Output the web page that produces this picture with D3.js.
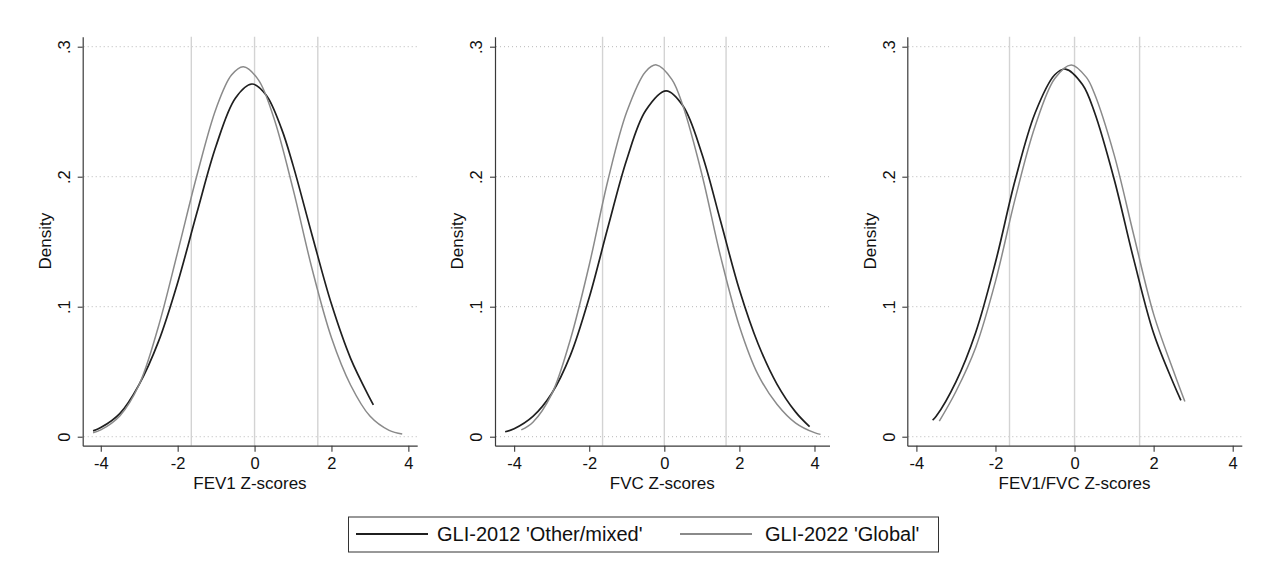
<!DOCTYPE html>
<html>
<head>
<meta charset="utf-8">
<script src="https://cdn.jsdelivr.net/npm/d3@7"></script>
<style>
  body { margin: 0; background: #fff; }
  svg, svg text { font-family: "Liberation Sans", Arial, Helvetica, sans-serif; }
</style>
</head>
<body>
<div id="chart"></div>
<script>
// chart values
var panelTitles = ['FEV1 Z-scores', 'FVC Z-scores', 'FEV1/FVC Z-scores'];
var seriesNames = ["GLI-2012 'Other/mixed'", "GLI-2022 'Global'"];
var xTicks = [-4, -2, 0, 2, 4];
var yTicks = [0, 0.1, 0.2, 0.3];
var yTickLabels = ['0', '.1', '.2', '.3'];
var refLines = [-1.645, 0, 1.645];
var xDomains = [[-4.47, 4.23], [-4.51, 4.40], [-4.23, 4.23]];

// FEV1
var fev1Z2012 = [-4.2, -4.0, -3.5, -3.0, -2.5, -2.0, -1.5, -1.0, -0.5, -0.07, 0.3, 0.7, 1.0, 1.5, 2.0, 2.5, 3.0, 3.09];
var fev1D2012 = [0.0045, 0.007, 0.018, 0.0403, 0.0731, 0.1185, 0.1722, 0.2238, 0.2604, 0.2713, 0.2629, 0.237, 0.2089, 0.1546, 0.102, 0.0601, 0.0295, 0.0245];
var fev1Z2022 = [-4.2, -4.0, -3.5, -3.0, -2.5, -2.0, -1.5, -1.0, -0.6, -0.29, 0.1, 0.5, 1.0, 1.5, 2.0, 2.5, 3.0, 3.5, 3.84];
var fev1D2022 = [0.003, 0.0052, 0.0162, 0.0402, 0.0848, 0.142, 0.2009, 0.2525, 0.2782, 0.2846, 0.2745, 0.2453, 0.1906, 0.1286, 0.0761, 0.0396, 0.0159, 0.0049, 0.0021];

// FVC
var fvcZ2012 = [-4.24, -4.0, -3.5, -3.0, -2.5, -2.0, -1.5, -1.0, -0.5, 0.05, 0.5, 1.0, 1.5, 2.0, 2.5, 3.0, 3.5, 3.87];
var fvcD2012 = [0.0038, 0.0061, 0.0156, 0.0332, 0.0627, 0.1071, 0.1613, 0.2133, 0.2507, 0.266, 0.2543, 0.2177, 0.1657, 0.113, 0.0713, 0.0405, 0.0189, 0.0077];
var fvcZ2022 = [-3.81, -3.5, -3.0, -2.5, -2.0, -1.5, -1.0, -0.5, -0.21, 0.2, 0.5, 1.0, 1.5, 2.0, 2.5, 3.0, 3.5, 4.0, 4.16];
var fvcD2022 = [0.0052, 0.0111, 0.0327, 0.075, 0.1321, 0.1975, 0.2499, 0.2808, 0.286, 0.2749, 0.2541, 0.2019, 0.1385, 0.085, 0.0475, 0.025, 0.0105, 0.0031, 0.0018];

// FEV1/FVC
var ratioZ2012 = [-3.59, -3.5, -3.0, -2.5, -2.0, -1.5, -1.0, -0.5, -0.23, 0.2, 0.5, 1.0, 1.5, 2.0, 2.5, 2.69];
var ratioD2012 = [0.0128, 0.0157, 0.0422, 0.0802, 0.1342, 0.1976, 0.2488, 0.2784, 0.2828, 0.2709, 0.25, 0.1983, 0.136, 0.0795, 0.0411, 0.028];
var ratioZ2022 = [-3.42, -3.0, -2.5, -2.0, -1.5, -1.0, -0.5, -0.085, 0.3, 0.5, 1.0, 1.5, 2.0, 2.5, 2.79];
var ratioD2022 = [0.012, 0.0348, 0.0687, 0.1195, 0.1833, 0.2386, 0.2755, 0.286, 0.2764, 0.2642, 0.217, 0.1548, 0.0943, 0.0507, 0.027];

var panelSeries = [
    [[fev1Z2012, fev1D2012], [fev1Z2022, fev1D2022]],
    [[fvcZ2012, fvcD2012], [fvcZ2022, fvcD2022]],
    [[ratioZ2012, ratioD2012], [ratioZ2022, ratioD2022]]
];

var width = 1271;
var height = 565;
var seriesColors = ['#1f1f1f', '#8a8a8a'];
var seriesWidths = [1.7, 1.5];

var svg = d3.select('#chart')
    .append('svg')
    .attr('width', width)
    .attr('height', height)
    .attr('viewBox', '0 0 ' + width + ' ' + height);

svg.append('rect')
    .attr('width', width)
    .attr('height', height)
    .attr('fill', '#fff');

var plotTop = 36.7;
var plotBottom = 445.7;
var plotWidth = 334.5;
var panelLeft = [82.7, 495, 907.3];

var y = d3.scaleLinear()
    .domain([-0.00692, 0.30769])
    .range([plotBottom, plotTop]);

panelTitles.forEach(function (title, p) {
    var left = panelLeft[p];
    var x = d3.scaleLinear()
        .domain(xDomains[p])
        .range([left, left + plotWidth]);

    var g = svg.append('g');

    // dotted horizontal grid
    g.selectAll('line.grid')
        .data(yTicks)
        .enter().append('line')
        .attr('class', 'grid')
        .attr('x1', left + 1)
        .attr('x2', left + plotWidth)
        .attr('y1', function (d) { return y(d); })
        .attr('y2', function (d) { return y(d); })
        .attr('stroke', '#b8b8b8')
        .attr('stroke-width', 1)
        .attr('stroke-dasharray', '1,3');

    // reference lines at -1.645, 0, 1.645
    g.selectAll('line.ref')
        .data(refLines)
        .enter().append('line')
        .attr('class', 'ref')
        .attr('x1', function (d) { return x(d); })
        .attr('x2', function (d) { return x(d); })
        .attr('y1', plotTop)
        .attr('y2', plotBottom)
        .attr('stroke', '#d3d3d3')
        .attr('stroke-width', 1.4);

    var line = d3.line()
        .x(function (d) { return x(d[0]); })
        .y(function (d) { return y(d[1]); })
        .curve(d3.curveCatmullRom.alpha(0.5));

    panelSeries[p].forEach(function (s, i) {
        var pts = s[0].map(function (z, k) { return [z, s[1][k]]; });
        g.append('path')
            .datum(pts)
            .attr('d', line)
            .attr('fill', 'none')
            .attr('stroke', seriesColors[i])
            .attr('stroke-width', seriesWidths[i]);
    });

    // x axis
    var xAxis = g.append('g')
        .attr('transform', 'translate(0,' + plotBottom + ')')
        .call(d3.axisBottom(x).tickValues(xTicks).tickSize(6).tickSizeOuter(0)
            .tickFormat(function (d) { return d; }));
    xAxis.attr('font-family', null).attr('font-size', null);
    xAxis.select('.domain').attr('stroke', '#3a3a3a').attr('stroke-width', 1.2);
    xAxis.selectAll('.tick line').attr('stroke', '#3a3a3a').attr('stroke-width', 1.1);
    xAxis.selectAll('.tick text')
        .attr('y', 23.3)
        .attr('dy', 0)
        .attr('fill', '#111')
        .style('font-size', '16.5px');

    // y axis
    var yAxis = g.append('g')
        .attr('transform', 'translate(' + left + ',0)')
        .call(d3.axisLeft(y).tickValues(yTicks).tickSize(5).tickSizeOuter(0)
            .tickFormat(function (d, i) { return yTickLabels[i]; }));
    yAxis.attr('font-family', null).attr('font-size', null);
    yAxis.select('.domain').attr('stroke', '#3a3a3a').attr('stroke-width', 1.2);
    yAxis.selectAll('.tick line').attr('stroke', '#3a3a3a').attr('stroke-width', 1.1);
    yAxis.selectAll('.tick text')
        .attr('x', null)
        .attr('dy', null)
        .attr('transform', 'translate(-12.7,0) rotate(-90)')
        .attr('text-anchor', 'middle')
        .attr('fill', '#111')
        .style('font-size', '16.5px');

    g.append('text')
        .attr('transform', 'translate(' + (left - 31.7) + ',' + ((plotTop + plotBottom) / 2) + ') rotate(-90)')
        .attr('text-anchor', 'middle')
        .attr('fill', '#111')
        .style('font-size', '17px')
        .text('Density');

    g.append('text')
        .attr('x', left + plotWidth / 2)
        .attr('y', 488.5)
        .attr('text-anchor', 'middle')
        .attr('fill', '#111')
        .style('font-size', '17px')
        .text(title);
});

// legend
var legend = svg.append('g');
legend.append('rect')
    .attr('x', 348.5)
    .attr('y', 517)
    .attr('width', 590)
    .attr('height', 35)
    .attr('fill', '#fff')
    .attr('stroke', '#333')
    .attr('stroke-width', 1);

var legendLineX = [356, 680];
var legendTextX = [437, 765];
seriesNames.forEach(function (name, i) {
    legend.append('line')
        .attr('x1', legendLineX[i])
        .attr('x2', legendLineX[i] + 72)
        .attr('y1', 534)
        .attr('y2', 534)
        .attr('stroke', seriesColors[i])
        .attr('stroke-width', 2);
    legend.append('text')
        .attr('x', legendTextX[i])
        .attr('y', 541)
        .attr('fill', '#111')
        .style('font-size', '20px')
        .text(name);
});
</script>
</body>
</html>
